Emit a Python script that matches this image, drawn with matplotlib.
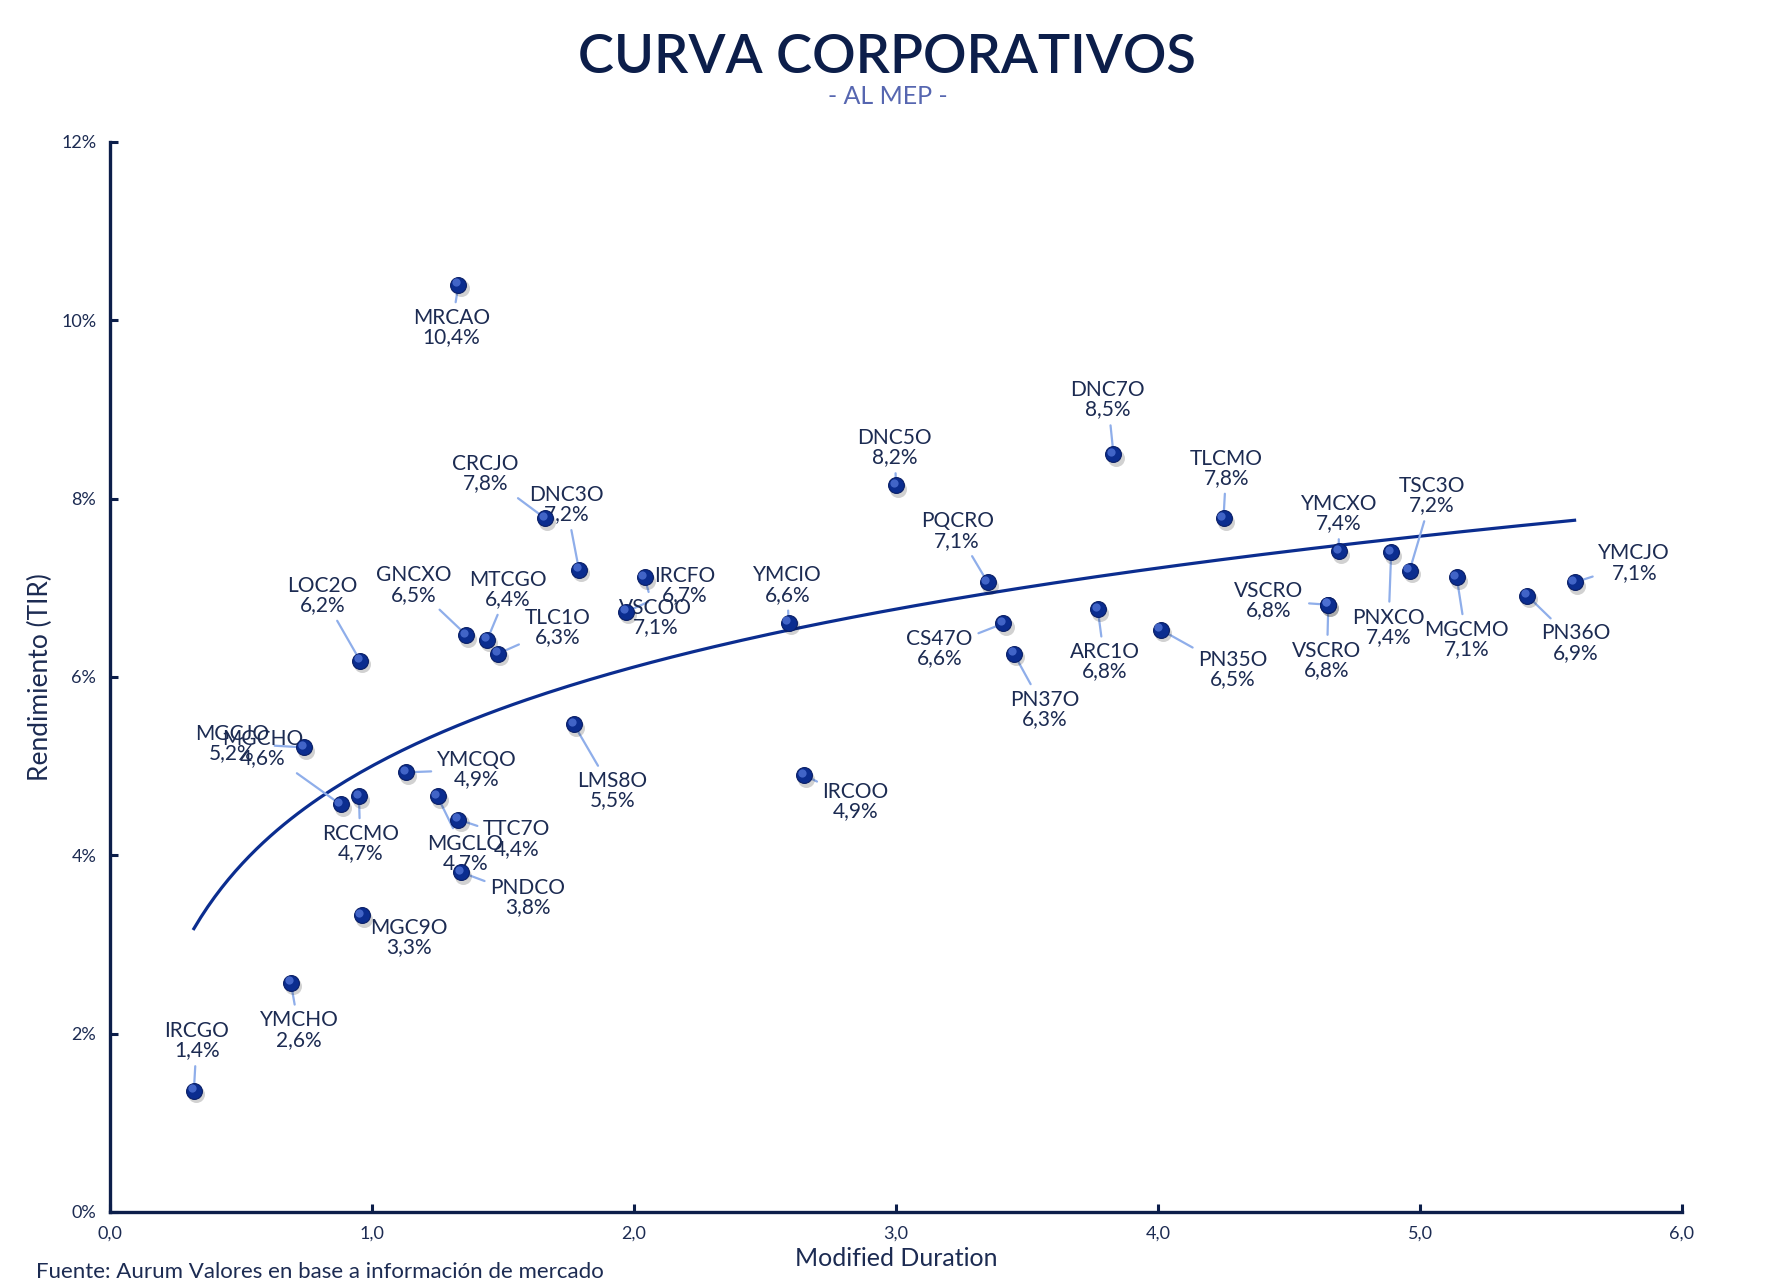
import numpy as np
import matplotlib
matplotlib.use("Agg")
import matplotlib.pyplot as plt
from matplotlib.transforms import offset_copy

plt.rcParams['font.family'] = ['Lato', 'DejaVu Sans']

# bond tickers, modified duration and yield (TIR, %)
names = ["MRCAO", "DNC7O", "DNC5O", "CRCJO", "TLCMO", "DNC3O", "YMCXO", "PNXCO",
         "TSC3O", "MGCMO", "YMCJO", "PN36O", "IRCFO", "VSCOO", "YMCIO", "PQCRO",
         "CS47O", "PN37O", "ARC1O", "PN35O", "VSCRO", "VSCRO", "LOC2O", "GNCXO",
         "MTCGO", "TLC1O", "LMS8O", "IRCOO", "MGCJO", "MGCHO", "RCCMO", "YMCQO",
         "MGCLO", "TTC7O", "PNDCO", "MGC9O", "YMCHO", "IRCGO"]
duration = [1.33, 3.83, 3.00, 1.66, 4.25, 1.79, 4.69, 4.89,
            4.96, 5.14, 5.59, 5.41, 1.97, 2.04, 2.59, 3.35,
            3.41, 3.45, 3.77, 4.01, 4.65, 4.65, 0.955, 1.36,
            1.44, 1.48, 1.77, 2.65, 0.74, 0.88, 0.95, 1.13,
            1.25, 1.33, 1.34, 0.96, 0.69, 0.32]
tir = [10.40, 8.50, 8.15, 7.78, 7.78, 7.20, 7.41, 7.40,
       7.19, 7.12, 7.06, 6.91, 6.73, 7.12, 6.61, 7.06,
       6.60, 6.26, 6.76, 6.53, 6.81, 6.81, 6.18, 6.47,
       6.42, 6.26, 5.47, 4.90, 5.21, 4.57, 4.66, 4.93,
       4.66, 4.40, 3.81, 3.33, 2.57, 1.36]

# label offsets (points) from each marker
label_offsets = [(-5, -31), (-4, 39), (-1, 27), (-43, 32), (2, 36), (-9, 47), (0, 27), (-2, -54),
                 (16, 54), (7, -45), (43, 14), (35, -34), (42, 19), (8, -29), (-1, 27), (-22, 37),
                 (-46, -18), (22, -40), (5, -38), (52, -29), (-43, 3), (-1, -40), (-27, 47), (-38, 36),
                 (15, 36), (43, 19), (28, -48), (37, -19), (-52, 3), (-56, 40), (1, -34), (51, 2),
                 (20, -41), (42, -14), (48, -18), (34, -16), (6, -34), (2, 36)]

navy = "#0C1E4A"
text_col = "#1C2B52"
dot_col = "#0B2D8F"
leader_col = "#8FAEEA"

fig = plt.figure(figsize=(17.75, 12.87), dpi=100)
ax = fig.add_axes([0.062, 0.0583, 0.8856, 0.8314])

x = np.array(duration)
y = np.array(tir)

# logarithmic trend line
b, a = np.polyfit(np.log(x), y, 1)
xs = np.linspace(x.min(), x.max(), 200)
ax.plot(xs, a + b * np.log(xs), color=dot_col, lw=2.3, zorder=2)

# leaders + labels
for n, xi, yi, off in zip(names, x, y, label_offsets):
    lab = n + "\n" + f"{yi:.1f}".replace(".", ",") + "%"
    ax.annotate(lab, (xi, yi), xytext=off, textcoords="offset points",
                ha="center", va="center", fontsize=15, color=text_col, linespacing=0.95,
                bbox=dict(boxstyle="square,pad=0.15", fc="none", ec="none"),
                arrowprops=dict(arrowstyle="-", color=leader_col, lw=1.6,
                                shrinkA=2, shrinkB=0),
                zorder=3)

# sphere-like markers: shadow, body, highlight
shadow = offset_copy(ax.transData, fig=fig, x=1.5, y=-2.5, units="points")
ax.scatter(x, y, s=150, color="#000000", alpha=0.18, lw=0, transform=shadow, zorder=4)
ax.scatter(x, y, s=130, color=dot_col, edgecolor="#0A1F66", lw=0.8, zorder=5)
hl = offset_copy(ax.transData, fig=fig, x=-1.6, y=1.8, units="points")
ax.scatter(x, y, s=35, color="#4F72D6", alpha=0.8, lw=0, transform=hl, zorder=6)

ax.set_xlim(0, 6)
ax.set_ylim(0, 12)
ax.set_xticks(np.arange(0, 7, 1))
ax.set_xticklabels([f"{v:.1f}".replace(".", ",") for v in range(7)])
ax.set_yticks(np.arange(0, 13, 2))
ax.set_yticklabels([f"{v}%" for v in range(0, 13, 2)])
ax.tick_params(direction="in", length=6, width=2.2, color=navy, labelcolor=text_col,
               labelsize=13)
ax.tick_params(axis="x", pad=10)
ax.tick_params(axis="y", pad=10)
for s in ["top", "right"]:
    ax.spines[s].set_visible(False)
for s in ["left", "bottom"]:
    ax.spines[s].set_color(navy)
    ax.spines[s].set_linewidth(2.4)

ax.set_xlabel("Modified Duration", fontsize=18, color=text_col, labelpad=4)
ax.set_ylabel("Rendimiento (TIR)", fontsize=19, color=text_col, labelpad=6)

fig.text(0.5, 0.955, "CURVA CORPORATIVOS", ha="center", va="center",
         fontsize=39, fontweight="semibold", color=navy)
fig.text(0.5, 0.925, "- AL MEP -", ha="center", va="center", fontsize=18, color="#5666B0")
fig.text(0.02, 0.004, "Fuente: Aurum Valores en base a información de mercado",
         ha="left", va="bottom", fontsize=16, color=text_col)

fig.savefig("out.png", dpi=100)
